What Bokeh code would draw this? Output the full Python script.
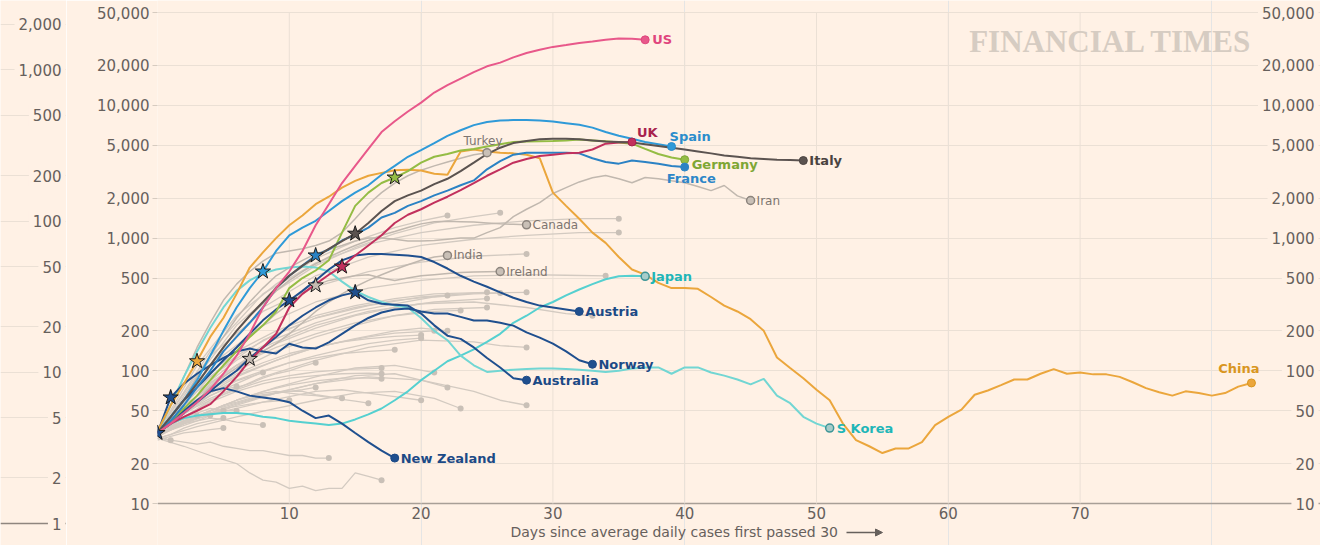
from bokeh.plotting import figure
from bokeh.layouts import row
from bokeh.models import Range1d, FixedTicker, NumeralTickFormatter, Span, Arrow, NormalHead
from bokeh.core.properties import value
from bokeh.embed import file_html
from bokeh.resources import INLINE

# ---------------- data (7-day average of daily new cases, by day since 30 cases) -------------
Y_TICKS = [10, 20, 50, 100, 200, 500, 1000, 2000, 5000, 10000, 20000, 50000]
X_TICKS = [10, 20, 30, 40, 50, 60, 70]
FRAG_TICKS = [1, 2, 5, 10, 20, 50, 100, 200, 500, 1000, 2000]

US = [34, 40, 48, 58, 72, 95, 130, 190, 300, 420, 560, 800, 1250, 1800, 2600, 3500, 4700, 6300, 7600, 9000,
      10500, 12500, 14200, 15900, 17800, 19700, 21000, 23000, 24800, 26300, 27600, 28500, 29500, 30300, 31200,
      31900, 31800, 31200]
SPAIN = [34, 45, 60, 85, 130, 200, 300, 420, 560, 800, 1050, 1200, 1350, 1600, 1900, 2200, 2500, 3000, 3500, 4100,
         4600, 5200, 5900, 6500, 7100, 7500, 7700, 7750, 7750, 7700, 7550, 7350, 7150, 6800, 6300, 5900, 5600, 5300,
         5100, 4900]
FRANCE = [34, 42, 55, 75, 100, 140, 180, 230, 300, 420, 520, 620, 740, 820, 960, 1060, 1200, 1430, 1550, 1750,
          1900, 2100, 2280, 2500, 2720, 3300, 3800, 4250, 4400, 4400, 4400, 4400, 4350, 4000, 3750, 3640, 3840, 3750,
          3640, 3500, 3430]
UK = [34, 40, 45, 50, 56, 70, 90, 120, 150, 190, 300, 380, 450, 530, 610, 740, 880, 1050, 1300, 1500,
      1650, 1850, 2050, 2300, 2600, 2950, 3300, 3700, 3950, 4150, 4250, 4350, 4400, 4650, 5150, 5250, 5300]
ITALY = [34, 45, 60, 80, 110, 150, 200, 260, 330, 420, 520, 620, 720, 830, 950, 1080, 1300, 1600, 1900, 2100,
         2280, 2550, 2800, 3200, 3700, 4300, 4800, 5200, 5400, 5550, 5600, 5600, 5550, 5450, 5350, 5300, 5250, 5100,
         4950, 4800, 4650, 4500, 4350, 4200, 4100, 4000, 3950, 3900, 3870, 3840]
GERMANY = [34, 42, 52, 65, 85, 110, 140, 180, 220, 280, 420, 500, 570, 680, 1100, 1750, 2200, 2600, 2860, 3200,
           3700, 4100, 4300, 4570, 4700, 4900, 5100, 5300, 5350, 5360, 5400, 5450, 5530, 5450, 5360, 5250, 5150,
           4700, 4300, 4050, 3900]
CHINA = [35, 55, 80, 118, 180, 250, 380, 600, 780, 1000, 1250, 1480, 1800, 2050, 2400, 2700, 2950, 3100, 3250, 3280,
         3230, 3050, 3000, 4500, 4650, 4500, 4400, 4350, 4250, 4000, 2200, 1750, 1400, 1100, 920, 720, 580, 530, 460,
         420, 420, 415, 360, 310, 280, 245, 200, 126, 105, 88, 72, 60, 40, 30, 27, 24, 26, 26, 29, 39,
         45, 51, 66, 71, 78, 86, 86, 95, 103, 95, 97, 94, 94, 90, 82, 74, 69, 65, 70, 68, 65, 68, 76, 81]
IRAN = [34, 45, 60, 90, 130, 180, 250, 330, 420, 520, 600, 680, 760, 820, 880, 950, 1000, 1000, 980, 950,
        950, 960, 980, 1000, 1000, 1100, 1200, 1450, 1650, 1850, 2170, 2400, 2650, 2850, 2960, 2800, 2610, 2860,
        2800, 2700, 2610, 2450, 2280, 2490, 2080, 1920]
TURKEY = [34, 55, 90, 150, 230, 340, 450, 560, 670, 770, 800, 830, 880, 950, 1100, 1400, 1800, 2200, 2600, 2950,
          3250, 3500, 3750, 4000, 4250, 4400]
CANADA = [34, 45, 60, 80, 110, 150, 200, 260, 320, 400, 480, 560, 640, 720, 800, 880, 960, 1050, 1120, 1200,
          1280, 1330, 1340, 1330, 1320, 1300, 1280, 1270, 1260]
INDIA = [34, 40, 50, 60, 75, 90, 105, 123, 140, 160, 190, 230, 280, 330, 380, 430, 480, 530, 580, 630, 680, 720, 740]
IRELAND = [34, 45, 60, 75, 95, 120, 150, 180, 220, 270, 320, 380, 440, 480, 500, 520, 530, 500, 480, 500,
           520, 530, 540, 550, 555, 558, 560]
JAPAN = [34, 40, 44, 46, 47, 48, 48, 47, 45, 44, 42, 41, 40, 39, 40, 43, 47, 52, 60, 70,
         85, 100, 118, 130, 145, 165, 190, 230, 260, 300, 330, 370, 410, 450, 490, 515, 520, 515]
SKOREA = [34, 55, 90, 140, 210, 300, 400, 480, 540, 580, 600, 610, 600, 560, 470, 400, 360, 330, 310, 300,
          250, 200, 170, 130, 110, 98, 100, 102, 103, 104, 104, 103, 102, 100, 98, 100, 104, 106, 106, 95,
          106, 106, 97, 92, 86, 79, 87, 65, 57, 45, 40, 37]
AUSTRIA = [34, 45, 60, 75, 95, 120, 150, 190, 240, 290, 339, 400, 480, 580, 680, 740, 760, 760, 750, 740,
           720, 660, 590, 520, 470, 430, 390, 355, 330, 310, 300, 290, 280]
NORWAY = [34, 63, 80, 95, 110, 125, 140, 147, 140, 135, 160, 150, 147, 164, 190, 220, 250, 275, 290, 295,
          280, 270, 270, 255, 239, 239, 230, 219, 195, 178, 160, 140, 120, 112]
AUSTRALIA = [34, 40, 48, 58, 70, 85, 100, 125, 150, 180, 220, 260, 300, 340, 370, 390, 340, 320, 315, 310,
             270, 220, 184, 174, 150, 125, 106, 88, 85]
NEW_ZEALAND = [34, 42, 50, 60, 70, 74, 70, 65, 63, 61, 58, 50, 44, 46, 40, 34, 29, 25, 22]

# unlabelled grey countries: days and values
GRAY_DAYS = [
    [0, 1, 2, 3, 4, 5], [0, 1, 2, 3, 4], [0, 1, 2, 3, 4, 5], [0, 1, 2, 3], [0, 1, 2, 3, 4, 5, 6],
    [0, 1, 2, 3, 4, 5], [0, 1, 2, 3, 4, 5, 6, 7, 8], [0, 1],
    [0, 1, 2, 3, 4, 5, 6, 7, 8, 9, 10, 11, 12, 13],
    [0, 2, 4, 6, 7, 8, 9, 10, 11, 12, 13, 14, 15, 16, 17],
    [0, 1, 2, 3, 4, 5, 6], [0, 1, 2, 3, 4, 5, 6, 7, 8], [0, 1, 2, 3, 4, 5, 6, 7, 8, 9, 10, 11, 12],
    [0, 1, 2, 3, 4, 5, 6, 7, 8, 9, 10, 11, 12], [0, 1, 2, 3, 4, 5, 6, 7, 8, 9, 10],
    [0, 1, 2, 3, 4, 5, 6, 7, 8, 9, 10, 11, 12, 13, 14],
    [0, 1, 2, 3, 4, 5, 6, 7, 8, 9, 10, 11, 12, 13, 14, 15, 16],
    [0, 1, 2, 3, 4, 5, 6, 7, 8, 9, 10, 11, 12, 13, 14, 15, 16, 17],
    [0, 2, 4, 6, 8, 10, 12, 14, 16, 17], [0, 2, 4, 6, 8, 10, 12, 14, 16, 17],
    [0, 2, 4, 6, 8, 10, 12, 14, 16, 18], [0, 2, 4, 6, 8, 10, 12, 14, 16, 18, 20],
    [0, 2, 4, 6, 8, 10, 12, 14, 16, 18, 20], [0, 2, 4, 6, 8, 10, 12, 14, 16, 18, 20],
    [0, 2, 4, 6, 8, 10, 12, 14, 16, 18, 21], [0, 3, 6, 9, 12, 15, 18, 20, 22],
    [0, 3, 6, 9, 12, 15, 18, 21], [0, 3, 6, 9, 12, 15, 18, 20, 22], [0, 3, 6, 9, 12, 15, 18, 21, 23],
    [0, 4, 8, 12, 16, 20, 24, 26, 28], [0, 4, 8, 12, 16, 20, 24, 26, 28],
    [0, 3, 6, 9, 12, 15, 18, 21, 23], [0, 3, 6, 9, 12, 15, 18, 21, 25], [0, 3, 6, 9, 12, 15, 18, 22],
    [0, 3, 6, 9, 12, 15, 18, 21, 25], [0, 3, 6, 9, 12, 15, 18, 21, 25], [0, 3, 6, 9, 12, 15, 18, 21, 24, 26],
    [0, 4, 8, 12, 16, 20, 24, 28], [0, 4, 8, 12, 16, 20, 24, 28, 31, 33], [0, 4, 8, 12, 16, 20, 24, 28, 31, 34],
    [0, 4, 8, 12, 16, 20, 24, 28], [0, 3, 6, 9, 12, 15, 18, 20, 22], [0, 3, 6, 9, 12, 15, 18, 21, 24, 26],
    [0, 4, 8, 12, 16, 20, 24, 28, 32, 35], [0, 4, 8, 12, 16, 20, 24, 28, 32, 35],
]
GRAY_VALS = [
    [33, 38, 42, 45, 48, 50], [32, 36, 40, 44, 46], [31, 33, 37, 40, 42, 44], [35, 40, 43, 46],
    [34, 40, 45, 48, 52, 50, 50], [30, 32, 34, 35, 36, 37], [33, 36, 40, 42, 44, 43, 41, 40, 39], [32, 30],
    [31, 30, 29, 28, 29, 27, 26, 25, 25, 24, 23, 23, 22, 22],
    [31, 27, 23, 20, 17, 15, 14.5, 13, 13.5, 12.5, 13, 13, 17, 16, 15],
    [35, 42, 50, 58, 65, 72, 76], [34, 42, 52, 60, 68, 75, 84, 90, 97],
    [33, 40, 48, 55, 62, 68, 75, 80, 88, 95, 100, 108, 115],
    [32, 36, 42, 46, 50, 55, 58, 62, 66, 68, 70, 72, 75], [33, 38, 42, 45, 48, 52, 54, 56, 58, 59, 60],
    [34, 38, 42, 46, 50, 55, 60, 64, 68, 70, 68, 66, 65, 63, 62],
    [32, 37, 41, 45, 48, 52, 56, 60, 64, 68, 70, 70, 66, 64, 61, 59, 57],
    [34, 40, 47, 54, 60, 66, 72, 78, 84, 88, 92, 95, 98, 100, 102, 103, 104, 105],
    [33, 45, 58, 70, 80, 88, 92, 95, 96, 95], [32, 40, 50, 60, 70, 78, 84, 88, 88, 87],
    [34, 50, 68, 85, 100, 115, 125, 135, 140, 144], [33, 40, 47, 52, 58, 64, 70, 72, 68, 64, 60],
    [35, 55, 75, 95, 115, 135, 150, 165, 175, 182, 186], [33, 48, 65, 80, 98, 115, 130, 145, 160, 170, 176],
    [34, 52, 72, 92, 110, 130, 150, 165, 180, 192, 200], [34, 60, 90, 120, 150, 175, 200, 210, 200],
    [32, 45, 60, 75, 90, 105, 110, 97], [33, 42, 55, 68, 80, 92, 95, 85, 75], [31, 38, 45, 52, 60, 68, 70, 62, 52],
    [34, 50, 65, 80, 90, 85, 70, 60, 55], [33, 60, 90, 120, 150, 170, 165, 155, 150],
    [34, 70, 110, 150, 190, 230, 260, 280, 285], [33, 60, 100, 140, 180, 220, 260, 290, 300],
    [34, 75, 130, 190, 250, 300, 340, 370], [35, 80, 140, 200, 260, 310, 350, 380, 390],
    [33, 65, 110, 160, 210, 260, 300, 330, 350], [34, 70, 120, 175, 230, 280, 320, 360, 380, 385],
    [34, 90, 170, 250, 310, 360, 385, 390], [33, 80, 150, 220, 280, 320, 330, 300, 270, 260],
    [34, 110, 220, 330, 420, 480, 520, 530, 525, 520], [35, 130, 280, 430, 560, 660, 730, 760],
    [34, 110, 260, 450, 700, 950, 1200, 1350, 1480], [33, 90, 220, 400, 620, 850, 1080, 1300, 1450, 1550],
    [34, 140, 380, 650, 900, 1100, 1250, 1350, 1400, 1400], [33, 110, 300, 520, 720, 880, 980, 1050, 1100, 1100],
]

# lockdown stars: country, day
STARS = [("New Zealand", 0), ("Norway", 1), ("China", 3), ("India", 7), ("Spain", 8), ("Austria", 10),
         ("France", 12), ("Ireland", 12), ("UK", 14), ("Italy", 15), ("Australia", 15), ("Germany", 18)]

# ---------------- styles ----------------
BG = "#fff1e5"
GRID = "#ebe0d5"
TXT = "#66605c"
FONT = value("DejaVu Sans")
GREY_LINE = "#d3cac1"
GREY_LAB_LINE = "#c1b8af"
GREY_TEXT = "#7d7570"
DBLUE = "#1f4f8e"
DBLUE_T = "#1c4a86"
CYAN = "#55d0d0"
CYAN_T = "#1fb6b8"

# name, data, line colour, label colour, kind, (align, dx, dy)
SERIES = [
    ("Iran", IRAN, GREY_LAB_LINE, GREY_TEXT, "grey", ("left", 6, 0)),
    ("Turkey", TURKEY, GREY_LAB_LINE, GREY_TEXT, "grey", ("center", -4, -12)),
    ("Canada", CANADA, GREY_LAB_LINE, GREY_TEXT, "grey", ("left", 6, 0)),
    ("India", INDIA, GREY_LAB_LINE, GREY_TEXT, "grey", ("left", 6, 0)),
    ("Ireland", IRELAND, GREY_LAB_LINE, GREY_TEXT, "grey", ("left", 6, 0)),
    ("Japan", JAPAN, CYAN, CYAN_T, "ring", ("left", 6, 0)),
    ("S Korea", SKOREA, "#72d6d3", CYAN_T, "ring", ("left", 7, 0)),
    ("New Zealand", NEW_ZEALAND, DBLUE, DBLUE_T, "solid", ("left", 6, 0)),
    ("Australia", AUSTRALIA, DBLUE, DBLUE_T, "solid", ("left", 6, 0)),
    ("Norway", NORWAY, DBLUE, DBLUE_T, "solid", ("left", 6, 0)),
    ("Austria", AUSTRIA, DBLUE, DBLUE_T, "solid", ("left", 6, 0)),
    ("China", CHINA, "#eba63c", "#d9961f", "solid", ("right", 8, -14)),
    ("Germany", GERMANY, "#94bc44", "#7ea634", "solid", ("left", 7, 5)),
    ("France", FRANCE, "#2b82c4", "#2d86c8", "solid", ("left", -18, 11)),
    ("Spain", SPAIN, "#2f9ad8", "#2b8dcc", "solid", ("left", -2, -10)),
    ("UK", UK, "#c2305d", "#a8224d", "solid", ("left", 5, -9)),
    ("Italy", ITALY, "#5b5350", "#4a4340", "solid", ("left", 6, 0)),
    ("US", US, "#e8588a", "#e0457d", "solid", ("left", 7, 0)),
]
DATA = {s[0]: s[1] for s in SERIES}
COL = {s[0]: s[2] for s in SERIES}
STAR_FILL = {"India": "#c4bab1", "Ireland": "#c4bab1"}

# ---------------- geometry of the page (page pixels) ----------------
PAGE_H = 545
FRAG_W = 66
MAIN_W = 1320 - FRAG_W
FRAME_LEFT = 157
PX_PER_DAY = 13.18
DECADE_PX = 132.7
BASE_PAGE_Y = 503          # page y of the "10" line
XMAX = (1320 - FRAME_LEFT) / PX_PER_DAY


def y_at(page_y):
    return 10 * 10 ** ((BASE_PAGE_Y - page_y) / DECADE_PX)


def x_at(page_x):
    return (page_x - FRAME_LEFT) / PX_PER_DAY


# ---------------- left fragment (neighbouring chart's axis) ----------------
FRAG_DECADE = 151.2
FRAG_BASE = 523
frag = figure(width=FRAG_W, height=PAGE_H, x_range=Range1d(0, FRAG_W),
              y_range=Range1d(10 ** (-(PAGE_H - FRAG_BASE) / FRAG_DECADE), 10 ** (FRAG_BASE / FRAG_DECADE)),
              y_axis_type="log", output_backend="svg", toolbar_location=None, min_border=0,
              background_fill_color=BG, border_fill_color=BG, outline_line_color=None)
frag.xaxis.visible = False
frag.yaxis.visible = False
frag.xgrid.visible = False
frag.ygrid.ticker = FixedTicker(ticks=FRAG_TICKS)
frag.ygrid.grid_line_color = GRID
frag.add_layout(Span(location=1, dimension="width", line_color="#8f867f", line_width=1.5, level="underlay"))
frag.text(x=[FRAG_W - 1] * len(FRAG_TICKS), y=FRAG_TICKS, text=[f"{t:,}" for t in FRAG_TICKS],
          text_font=FONT, text_font_size="15px", text_color=TXT, text_align="right", text_baseline="middle",
          background_fill_color=BG, padding=4)

# ---------------- main chart ----------------
p = figure(width=MAIN_W, height=PAGE_H, x_range=Range1d(0, XMAX), y_range=Range1d(y_at(PAGE_H), y_at(0)),
           y_axis_type="log", x_axis_location=None, output_backend="svg", toolbar_location=None,
           min_border_left=FRAME_LEFT - FRAG_W, min_border_right=0, min_border_top=0, min_border_bottom=0,
           background_fill_color=BG, border_fill_color=BG, outline_line_color=None)
p.yaxis.ticker = FixedTicker(ticks=Y_TICKS)
p.yaxis.formatter = NumeralTickFormatter(format="0,0")
p.yaxis.axis_line_color = None
p.yaxis.major_tick_out = 5
p.yaxis.major_tick_in = 0
p.yaxis.minor_tick_line_color = None
p.yaxis.major_tick_line_color = "#d6cbc0"
p.yaxis.major_label_standoff = 3
p.yaxis.major_label_text_font = "DejaVu Sans"
p.yaxis.major_label_text_font_size = "15px"
p.yaxis.major_label_text_color = TXT
p.ygrid.grid_line_color = GRID
p.ygrid.grid_line_width = 1

# vertical grid lines between the 10 and 50,000 lines
p.segment(x0=X_TICKS, x1=X_TICKS, y0=[Y_TICKS[0]] * len(X_TICKS), y1=[Y_TICKS[-1]] * len(X_TICKS),
          line_color=GRID, line_width=1)
p.add_layout(Span(location=Y_TICKS[0], dimension="width", line_color="#a89f97", line_width=1.5, level="underlay"))

# watermark
p.text(x=[x_at(1252)], y=[y_at(41)], text=["FINANCIAL TIMES"], text_font=value("Liberation Serif"),
       text_font_style="bold", text_font_size="31px", text_color="#d6ccc2", text_align="right",
       text_baseline="middle")

# grey background countries
for d, v in zip(GRAY_DAYS, GRAY_VALS):
    p.line(d, v, line_color=GREY_LINE, line_width=1.3)
p.scatter([d[-1] for d in GRAY_DAYS], [v[-1] for v in GRAY_VALS], size=6, fill_color="#c9c0b7",
          line_color=None)

# highlighted countries
for name, vals, col, tcol, kind, (align, dx, dy) in SERIES:
    days = list(range(len(vals)))
    lw = 1.5 if kind == "grey" else 2
    p.line(days, vals, line_color=col, line_width=lw)

for name, vals, col, tcol, kind, (align, dx, dy) in SERIES:
    last = len(vals) - 1
    if kind == "grey":
        p.scatter([last], [vals[-1]], size=8, fill_color="#c9c0b7", line_color="#8c847d", line_width=1.5)
    elif kind == "ring":
        p.scatter([last], [vals[-1]], size=8, fill_color="#a8cdca", line_color="#3d9597", line_width=1.5)
    else:
        p.scatter([last], [vals[-1]], size=8, fill_color=col, line_color=tcol, line_width=1)
    p.text(x=[last], y=[vals[-1]], text=[name], x_offset=dx, y_offset=dy, text_align=align,
           text_baseline="middle", text_font=FONT,
           text_font_size="12px" if kind == "grey" else "13px",
           text_font_style="normal" if kind == "grey" else "bold", text_color=tcol)

# lockdown stars
p.scatter([d for _, d in STARS], [DATA[n][d] for n, d in STARS], marker="star", size=16,
          fill_color=[STAR_FILL.get(n, COL[n]) for n, _ in STARS], line_color="#1b1b1b", line_width=1)

# right-hand tick labels
p.text(x=[XMAX] * len(Y_TICKS), y=Y_TICKS, text=[f"{t:,}" for t in Y_TICKS], x_offset=-2,
       text_font=FONT, text_font_size="15px", text_color=TXT, text_align="right", text_baseline="middle",
       background_fill_color=BG, padding=4)

# x tick labels and axis title
p.text(x=X_TICKS, y=[y_at(512)] * len(X_TICKS), text=[str(t) for t in X_TICKS], text_font=FONT,
       text_font_size="15px", text_color=TXT, text_align="center", text_baseline="middle")
p.text(x=[x_at(510)], y=[y_at(531)], text=["Days since average daily cases first passed 30"], text_font=FONT,
       text_font_size="14px", text_color=TXT, text_align="left", text_baseline="middle")
p.add_layout(Arrow(end=NormalHead(size=7, fill_color=TXT, line_color=TXT), x_start=x_at(846), y_start=y_at(532),
                   x_end=x_at(882), y_end=y_at(532), line_color=TXT, line_width=1.3))

layout = row(frag, p)
open("out.html", "w").write(file_html(layout, INLINE))
